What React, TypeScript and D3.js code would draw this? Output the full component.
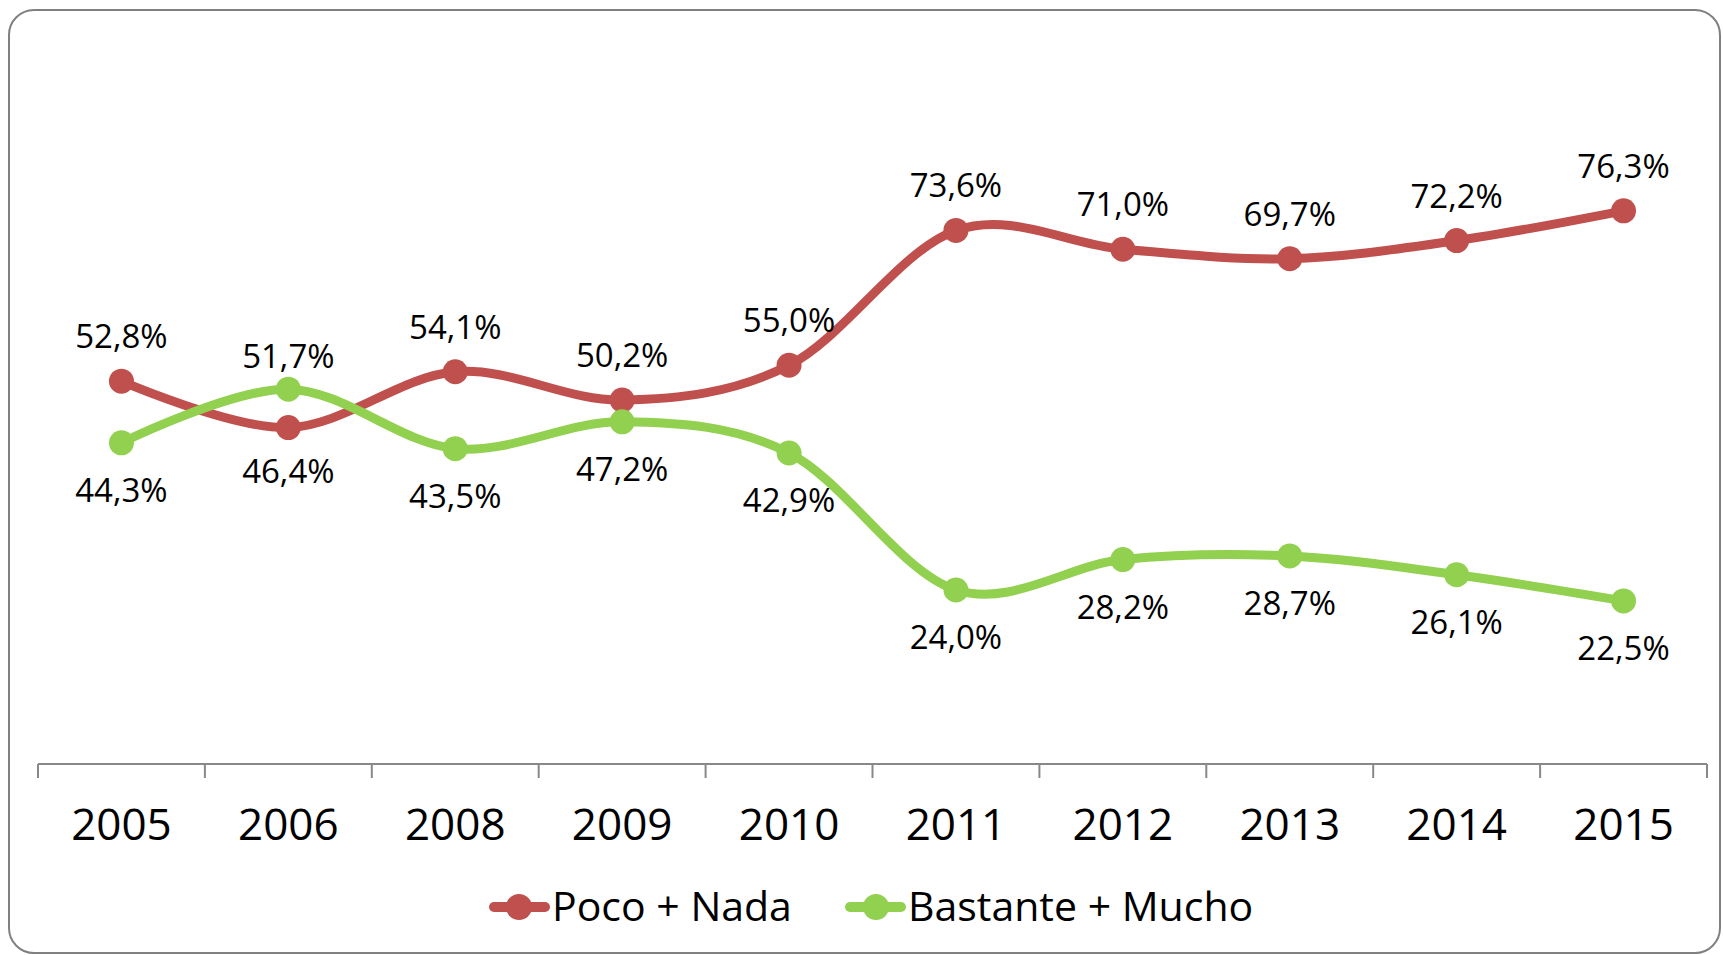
import React from "react";
import * as d3 from "d3";

const years = ["2005", "2006", "2008", "2009", "2010", "2011", "2012", "2013", "2014", "2015"];
const pocoNada = [52.8, 46.4, 54.1, 50.2, 55.0, 73.6, 71.0, 69.7, 72.2, 76.3];
const bastanteMucho = [44.3, 51.7, 43.5, 47.2, 42.9, 24.0, 28.2, 28.7, 26.1, 22.5];
const seriesNames = ["Poco + Nada", "Bastante + Mucho"];

const W = 1723;
const H = 955;
const FONT = "'Open Sans', 'Noto Sans', sans-serif";
const RED = "#C0504D";
const GREEN = "#92D050";

export default function App() {
  const x = d3.scaleBand<string>().domain(years).range([38, 1707]).padding(0);
  const y = d3.scaleLinear().domain([0, 100]).range([764, 39]);
  const cx = (d: string) => (x(d) as number) + x.bandwidth() / 2;

  const line = d3
    .line<number>()
    .x((_, i) => cx(years[i]))
    .y((v) => y(v))
    .curve(d3.curveCardinal.tension(0));

  const fmt = (v: number) => v.toFixed(1).replace(".", ",") + "%";

  const series = [
    { name: seriesNames[0], values: pocoNada, other: bastanteMucho, color: RED, above: -33, below: 55 },
    { name: seriesNames[1], values: bastanteMucho, other: pocoNada, color: GREEN, above: -21, below: 59 },
  ];

  const ticks = [...years.map((d) => x(d) as number), 1707];

  const legend = [
    { name: seriesNames[0], color: RED, x0: 489, x1: 550, cx: 519, tx: 552 },
    { name: seriesNames[1], color: GREEN, x0: 845, x1: 906, cx: 876, tx: 908 },
  ];

  return (
    <svg
      width={W}
      height={H}
      style={{ position: "absolute", left: 0, top: 0, background: "#fff" }}
      fontFamily={FONT}
    >
      <rect x={9} y={10} width={1711} height={943} rx={25} ry={25} fill="#fff" stroke="#808080" strokeWidth={2} />

      {/* axis */}
      <line x1={38} x2={1707} y1={764} y2={764} stroke="#888" strokeWidth={2} />
      {ticks.map((t, i) => (
        <line key={i} x1={t} x2={t} y1={764} y2={778} stroke="#888" strokeWidth={2} />
      ))}
      {years.map((d) => (
        <text key={d} x={cx(d)} y={840} textAnchor="middle" fontSize={44} fill="#000">
          {d}
        </text>
      ))}

      {/* lines */}
      {series.map((s) => (
        <path key={s.name} d={line(s.values) as string} fill="none" stroke={s.color} strokeWidth={9} />
      ))}
      {series.map((s) =>
        s.values.map((v, i) => (
          <circle key={s.name + i} cx={cx(years[i])} cy={y(v)} r={12.5} fill={s.color} />
        ))
      )}
      {series.map((s) =>
        s.values.map((v, i) => (
          <text
            key={"l" + s.name + i}
            x={cx(years[i])}
            y={y(v) + (v >= s.other[i] ? s.above : s.below)}
            textAnchor="middle"
            fontSize={33}
            fill="#000"
          >
            {fmt(v)}
          </text>
        ))
      )}

      {/* legend */}
      {legend.map((l) => (
        <g key={l.name}>
          <line x1={l.x0 + 5} x2={l.x1 - 5} y1={907} y2={907} stroke={l.color} strokeWidth={10} strokeLinecap="round" />
          <circle cx={l.cx} cy={907} r={13} fill={l.color} />
          <text x={l.tx} y={921} fontSize={41} fill="#000">
            {l.name}
          </text>
        </g>
      ))}
    </svg>
  );
}
